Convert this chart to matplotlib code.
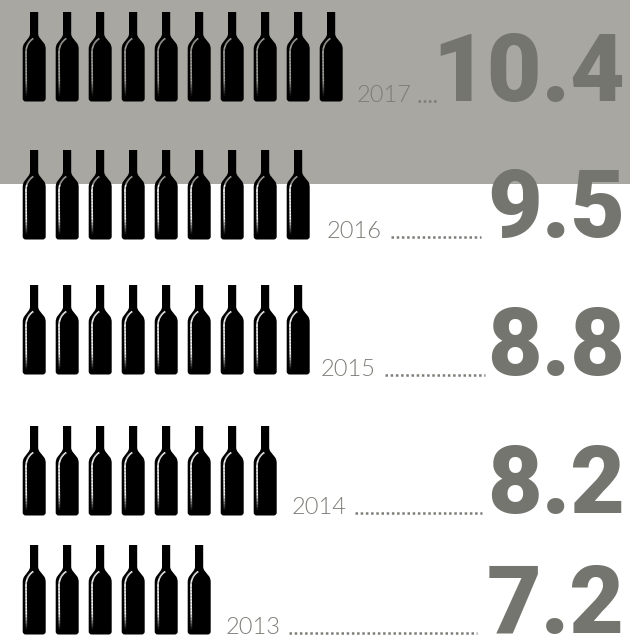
import numpy as np
import matplotlib
matplotlib.use("Agg")
import matplotlib.pyplot as plt
from matplotlib.collections import LineCollection
from matplotlib.colors import to_rgb
from matplotlib.patches import PathPatch, Rectangle
from matplotlib.path import Path

years = ["2017", "2016", "2015", "2014", "2013"]
values = ["10.4", "9.5", "8.8", "8.2", "7.2"]
bottles = [10, 9, 9, 8, 6]

# layout per row, in pixels
row_top = [12, 150, 285, 426, 545]
year_x = [357, 327, 321, 292, 226]
base_y = [102, 238, 376, 514, 634]
dots_from = [418, 391, 385, 355, 289]
dots_to = [437, 481, 485, 482, 477]

W, H = 630, 638
PITCH = 33.0
BAND_H = 184
GREY_BG = "#a8a7a2"
NUM_COL = "#757570"
YEAR_COL = "#7d7d78"

OUTLINE = [
    (Path.MOVETO, (7.3, 0)), (Path.LINETO, (15.5, 0)), (Path.LINETO, (15.5, 22)),
    (Path.CURVE3, (15.6, 24.5)), (Path.CURVE3, (17.5, 26.5)),
    (Path.LINETO, (21.5, 31.5)),
    (Path.CURVE3, (23, 33.5)), (Path.CURVE3, (23, 37)),
    (Path.LINETO, (23, 86.5)),
    (Path.CURVE3, (23, 89.5)), (Path.CURVE3, (20, 89.5)),
    (Path.LINETO, (3, 89.5)),
    (Path.CURVE3, (0, 89.5)), (Path.CURVE3, (0, 86.5)),
    (Path.LINETO, (0, 37)),
    (Path.CURVE3, (0, 33.5)), (Path.CURVE3, (1.5, 31.5)),
    (Path.LINETO, (5.3, 26.5)),
    (Path.CURVE3, (7.2, 24.5)), (Path.CURVE3, (7.3, 22)),
    (Path.CLOSEPOLY, (7.3, 0)),
]
codes = [c for c, _ in OUTLINE]
verts = np.array([p for _, p in OUTLINE], dtype=float)

# highlight running down the left side of a bottle: curve over the shoulder, then straight
t = np.linspace(0, 1, 14)[:, None]
curve = (1 - t) ** 2 * [10.6, 26.5] + 2 * t * (1 - t) * [3.6, 31] + t ** 2 * [3.3, 40]
shine = np.vstack([curve, np.column_stack([np.linspace(3.3, 3.7, 30), np.linspace(41, 84, 30)])])


def shine_segments(x, y):
    # the highlight shows whatever lies behind the bottle and fades out at the foot
    pts = shine + [x, y]
    segs, cols = [], []
    for a, b in zip(pts[:-1], pts[1:]):
        bg = np.array(to_rgb(GREY_BG if a[1] < BAND_H else "white"))
        fade = np.clip((y + 84 - a[1]) / 16, 0, 1)
        segs.append([a, b])
        cols.append(bg * fade)
    return segs, cols


fig = plt.figure(figsize=(W / 100, H / 100), dpi=100)
ax = fig.add_axes([0, 0, 1, 1])
ax.set_xlim(0, W)
ax.set_ylim(H, 0)
ax.axis("off")

ax.add_patch(Rectangle((0, 0), W, BAND_H, fc=GREY_BG, ec="none", zorder=0))

for r in range(len(years)):
    for i in range(bottles[r]):
        bx = 22.7 + i * PITCH
        ax.add_patch(PathPatch(Path(verts + [bx, row_top[r]], codes), fc="black", ec="none", zorder=2))
        segs, cols = shine_segments(bx, row_top[r])
        ax.add_collection(LineCollection(segs, colors=cols, linewidths=1.2, capstyle="butt", zorder=3))

    ax.text(year_x[r], base_y[r], years[r], family="Lato", weight=300,
            fontsize=17, color=YEAR_COL, ha="left", va="baseline", zorder=4)
    ax.plot([dots_from[r], dots_to[r]], [base_y[r] - 1, base_y[r] - 1], color=YEAR_COL,
            lw=1.8, ls=(0, (1, 1.08)), zorder=4)
    ax.text(625, base_y[r] - 1, values[r], family="Roboto", weight=900,
            fontsize=68, color=NUM_COL, ha="right", va="baseline", zorder=5)

fig.savefig("out.png", dpi=100)
